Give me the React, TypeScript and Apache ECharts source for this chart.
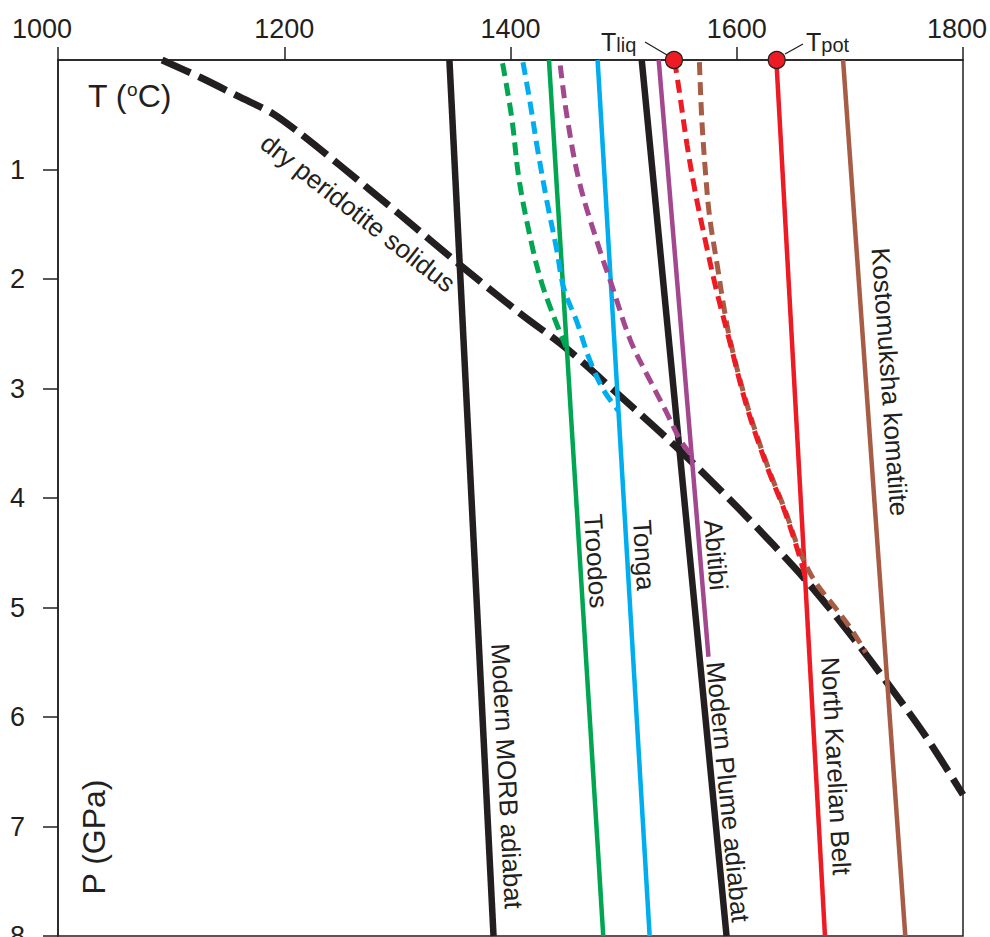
import React, { useEffect, useRef } from 'react';
import * as echarts from 'echarts';

// ---- axis ticks ----
const xTicks = [1000, 1200, 1400, 1600, 1800];
const xTickLabels = ['1000', '1200', '1400', '1600', '1800'];
const yTicks = [1, 2, 3, 4, 5, 6, 7, 8];
const yTickLabels = ['1', '2', '3', '4', '5', '6', '7', '8'];

// ---- dry peridotite solidus (T in °C, P in GPa) ----
const solidusT = [1092, 1126, 1161, 1190, 1214, 1249, 1302, 1354, 1408, 1449, 1497, 1546, 1603, 1661, 1700, 1731, 1766, 1800];
const solidusP = [0, 0.16, 0.34, 0.49, 0.67, 0.96, 1.41, 1.86, 2.31, 2.63, 3.07, 3.53, 4.11, 4.75, 5.24, 5.66, 6.16, 6.71];

// ---- adiabats (solid) ----
const morbT = [1346, 1385];
const morbP = [0, 8];
const plumeT = [1516, 1591];
const plumeP = [0, 8];
const troodosT = [1434, 1482];
const troodosP = [0, 8];
const tongaT = [1477, 1523];
const tongaP = [0, 8];
const abitibiT = [1531, 1575];
const abitibiP = [0, 5.45];
const karelianT = [1635, 1678];
const karelianP = [0, 8];
const kostoT = [1694, 1749];
const kostoP = [0, 8];

// ---- liquid paths (dashed) ----
const troodosDashT = [1393, 1401, 1408, 1420, 1428, 1437, 1449];
const troodosDashP = [0.03, 0.52, 1.12, 1.74, 2.05, 2.31, 2.62];
const tongaDashT = [1411, 1417, 1424, 1432, 1441, 1447, 1459, 1470, 1482, 1495];
const tongaDashP = [0.02, 0.37, 0.82, 1.28, 1.74, 2.08, 2.4, 2.74, 3.01, 3.2];
const abitibiDashT = [1444, 1450, 1461, 1479, 1489, 1506, 1523, 1538, 1550, 1560];
const abitibiDashP = [0.05, 0.52, 1.12, 1.74, 2.04, 2.56, 2.92, 3.22, 3.47, 3.61];
const karelianDashT = [1545, 1549, 1556, 1563, 1572, 1582, 1594, 1609, 1627, 1642, 1653, 1661];
const karelianDashP = [0, 0.27, 0.77, 1.19, 1.64, 2.1, 2.58, 3.17, 3.72, 4.11, 4.45, 4.73];
const kostoDashT = [1567, 1569, 1572, 1576, 1583, 1589, 1595, 1610, 1628, 1643, 1655, 1669, 1687, 1702, 1714];
const kostoDashP = [0.02, 0.52, 0.98, 1.43, 1.89, 2.28, 2.6, 3.18, 3.73, 4.12, 4.47, 4.76, 5.0, 5.21, 5.41];

// ---- Tliq / Tpot markers ----
const markerT = [1544.5, 1635.3];
const markerP = [0, 0];

const INK = '#231f20';
const GREEN = '#00a651';
const CYAN = '#00aeef';
const PURPLE = '#a3488e';
const RED = '#ed1c24';
const BROWN = '#a65c45';
const FONT = '"Liberation Sans", Arial, Helvetica, sans-serif';
const TICK_FS = 27;
const LABEL_FS = 26;

const pairs = (t: number[], p: number[]) => t.map((v, i) => [v, p[i]]);

const lineSeries = (
  name: string,
  t: number[],
  p: number[],
  color: string,
  width: number,
  type: any,
  smooth: number | boolean = false
) => ({
  name,
  type: 'line',
  data: pairs(t, p),
  showSymbol: false,
  symbol: 'none',
  smooth,
  lineStyle: { color, width, type, cap: 'butt' },
  silent: true,
});

const deg = (d: number) => (d * Math.PI) / 180;

const vLabel = (text: string, x: number, y: number, tiltDeg: number) => ({
  type: 'text',
  x,
  y,
  rotation: -Math.PI / 2 + deg(tiltDeg),
  style: {
    text,
    x: 0,
    y: 0,
    align: 'center',
    verticalAlign: 'middle',
    fontSize: LABEL_FS,
    fontFamily: FONT,
    fill: INK,
  },
});

export default function App() {
  const ref = useRef<HTMLDivElement>(null);

  useEffect(() => {
    if (!ref.current) return;
    const chart = echarts.init(ref.current, undefined, { renderer: 'svg' });
    const lastX = xTicks.length - 1;
    const option: any = {
      animation: false,
      backgroundColor: '#ffffff',
      grid: {
        left: 58,
        right: 27,
        top: 60,
        bottom: 1,
        containLabel: false,
        outerBoundsMode: 'none',
        show: true,
        borderColor: INK,
        borderWidth: 1.5,
        backgroundColor: 'transparent',
      },
      xAxis: {
        type: 'value',
        position: 'top',
        min: 1000,
        max: 1800,
        interval: 200,
        axisLine: { show: true, lineStyle: { color: INK, width: 1.5 } },
        axisTick: { show: true, inside: false, length: 13, lineStyle: { color: INK, width: 1.5 } },
        splitLine: { show: false },
        axisLabel: {
          show: true,
          margin: 18,
          fontSize: TICK_FS,
          fontFamily: FONT,
          color: INK,
          formatter: (v: number) => {
            const i = xTicks.indexOf(v);
            if (i < 0) return '';
            const s = xTickLabels[i];
            if (i === 0) return '{first|' + s + '}';
            if (i === lastX) return '{last|' + s + '}';
            return s;
          },
          rich: {
            first: { fontSize: TICK_FS, fontFamily: FONT, color: INK, padding: [0, 32, 0, 0] },
            last: { fontSize: TICK_FS, fontFamily: FONT, color: INK, padding: [0, 12, 0, 0] },
          },
        },
      },
      yAxis: {
        type: 'value',
        inverse: true,
        min: 0,
        max: 8,
        interval: 1,
        axisLine: { show: true, lineStyle: { color: INK, width: 1.5 } },
        axisTick: {
          show: true,
          inside: false,
          length: 15,
          customValues: yTicks,
          lineStyle: { color: INK, width: 1.5 },
        },
        splitLine: { show: false },
        axisLabel: {
          show: true,
          margin: 33,
          fontSize: TICK_FS,
          fontFamily: FONT,
          color: INK,
          customValues: yTicks,
          formatter: (v: number) => {
            const i = yTicks.indexOf(v);
            return i < 0 ? '' : yTickLabels[i];
          },
        },
      },
      series: [
        lineSeries('dry peridotite solidus', solidusT, solidusP, INK, 7, [31, 9], 0.3),
        lineSeries('Modern MORB adiabat', morbT, morbP, INK, 6.5, 'solid'),
        lineSeries('Modern Plume adiabat', plumeT, plumeP, INK, 6.5, 'solid'),
        lineSeries('Troodos', troodosT, troodosP, GREEN, 4.5, 'solid'),
        lineSeries('Tonga', tongaT, tongaP, CYAN, 4.5, 'solid'),
        lineSeries('Abitibi', abitibiT, abitibiP, PURPLE, 4.5, 'solid'),
        lineSeries('North Karelian Belt', karelianT, karelianP, RED, 4.5, 'solid'),
        lineSeries('Kostomuksha komatiite', kostoT, kostoP, BROWN, 4.5, 'solid'),
        lineSeries('Troodos liquid', troodosDashT, troodosDashP, GREEN, 5, [13, 7], 0.35),
        lineSeries('Tonga liquid', tongaDashT, tongaDashP, CYAN, 5, [13, 7], 0.35),
        lineSeries('Abitibi liquid', abitibiDashT, abitibiDashP, PURPLE, 5, [13, 7], 0.35),
        lineSeries('Kostomuksha liquid', kostoDashT, kostoDashP, BROWN, 5, [13, 7], 0.35),
        lineSeries('North Karelian liquid', karelianDashT, karelianDashP, RED, 5, [13, 7], 0.35),
        {
          name: 'Tliq / Tpot',
          type: 'scatter',
          data: pairs(markerT, markerP),
          symbol: 'circle',
          symbolSize: 17,
          clip: false,
          silent: true,
          z: 5,
          itemStyle: { color: RED, borderColor: INK, borderWidth: 1.2, opacity: 1 },
        },
      ],
      graphic: {
        elements: [
          {
            type: 'text',
            x: 88,
            y: 96,
            style: {
              text: '{a|T (}{b|o}{a|C)}',
              align: 'left',
              verticalAlign: 'middle',
              fontSize: 32,
              fontFamily: FONT,
              fill: INK,
              rich: {
                a: { fontSize: 32, fontFamily: FONT, fill: INK, verticalAlign: 'bottom' },
                b: { fontSize: 19, fontFamily: FONT, fill: INK, verticalAlign: 'top' },
              },
            },
          },
          {
            type: 'text',
            x: 94,
            y: 837,
            rotation: Math.PI / 2,
            style: {
              text: 'P (GPa)',
              x: 0,
              y: 0,
              align: 'center',
              verticalAlign: 'middle',
              fontSize: 32,
              fontFamily: FONT,
              fill: INK,
            },
          },
          {
            type: 'text',
            x: 358,
            y: 213,
            rotation: -deg(38),
            style: {
              text: 'dry peridotite solidus',
              x: 0,
              y: 0,
              align: 'center',
              verticalAlign: 'middle',
              fontSize: LABEL_FS,
              fontFamily: FONT,
              fill: INK,
            },
          },
          vLabel('Modern MORB adiabat', 507, 776, 2.9),
          vLabel('Troodos', 596, 561, 3.6),
          vLabel('Tonga', 644, 555, 3.4),
          vLabel('Abitibi', 716, 555, 4.9),
          vLabel('Modern Plume adiabat', 728, 792, 5.6),
          vLabel('North Karelian Belt', 836, 766, 3.1),
          vLabel('Kostomuksha komatiite', 890, 382, 4.0),
          {
            type: 'line',
            shape: { x1: 645, y1: 42, x2: 667, y2: 55 },
            style: { stroke: INK, lineWidth: 1.3 },
          },
          {
            type: 'line',
            shape: { x1: 785, y1: 54, x2: 803, y2: 44 },
            style: { stroke: INK, lineWidth: 1.3 },
          },
          {
            type: 'text',
            x: 601,
            y: 42,
            style: {
              text: '{a|T}{b|liq}',
              align: 'left',
              verticalAlign: 'middle',
              fontSize: 25,
              fontFamily: FONT,
              fill: INK,
              rich: {
                a: { fontSize: 25, fontFamily: FONT, fill: INK, verticalAlign: 'bottom' },
                b: { fontSize: 20, fontFamily: FONT, fill: INK, verticalAlign: 'bottom' },
              },
            },
          },
          {
            type: 'text',
            x: 806,
            y: 42,
            style: {
              text: '{a|T}{b|pot}',
              align: 'left',
              verticalAlign: 'middle',
              fontSize: 25,
              fontFamily: FONT,
              fill: INK,
              rich: {
                a: { fontSize: 25, fontFamily: FONT, fill: INK, verticalAlign: 'bottom' },
                b: { fontSize: 20, fontFamily: FONT, fill: INK, verticalAlign: 'bottom' },
              },
            },
          },
        ],
      },
    };
    chart.setOption(option);
    return () => {
      chart.dispose();
    };
  }, []);

  return (
    <div
      ref={ref}
      style={{ position: 'fixed', left: 0, top: 0, width: 990, height: 937, background: '#fff' }}
    />
  );
}
